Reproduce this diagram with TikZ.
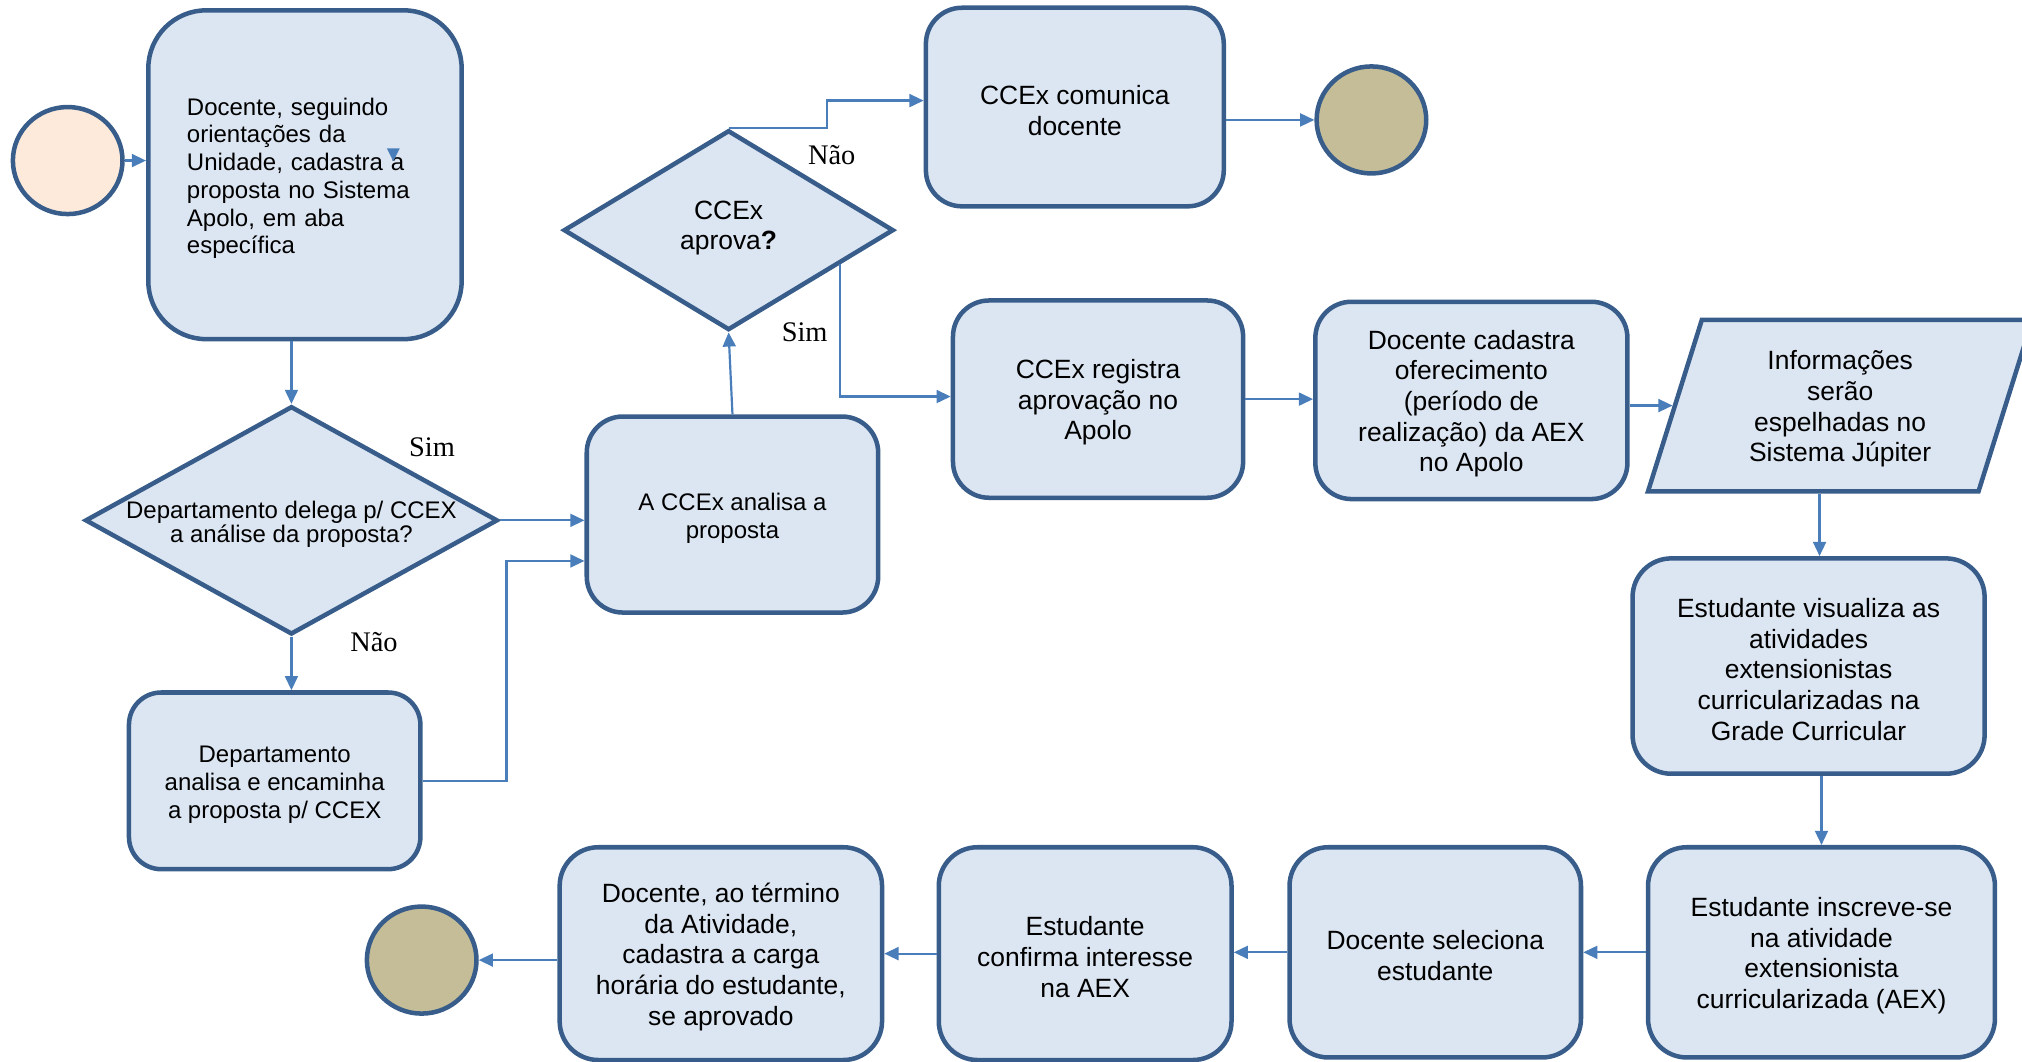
\documentclass[tikz,border=0pt]{standalone}
\usepackage{fontspec}
\setmainfont{Liberation Sans}
\newfontfamily\seriflab{Liberation Serif}
\usetikzlibrary{shapes.geometric,arrows.meta,calc}
\definecolor{boxfill}{HTML}{DCE6F2}
\definecolor{boxline}{HTML}{385D8A}
\definecolor{arrowc}{HTML}{4A7EBB}
\definecolor{startfill}{HTML}{FDEADA}
\definecolor{endfill}{HTML}{C4BD97}
\newcommand\bigrl{\rule{0pt}{20pt}}
\newcommand\smallrl{\rule{0pt}{19pt}}
\begin{document}
\begin{tikzpicture}[x=1pt,y=-1pt,
  proc/.style={draw=boxline, fill=boxfill, line width=3.5pt, rectangle, inner sep=0pt, align=center,
    font=\fontsize{20.5}{23.75}\selectfont},
  smalltxt/.style={font=\fontsize{18.6}{21.5}\selectfont},
  dec/.style={draw=boxline, fill=boxfill, line width=3.5pt, diamond, inner sep=0pt},
  term/.style={draw=boxline, line width=3.5pt, ellipse, inner sep=0pt, minimum width=85pt, minimum height=83pt},
  arr/.style={draw=arrowc, line width=1.7pt, -{Triangle[length=11pt,width=10pt]}},
  lbl/.style={font=\seriflab\fontsize{22}{24}\selectfont, inner sep=0pt},
]
\useasboundingbox (0,0) rectangle (1568,822.8);

% terminals
\node[term, fill=startfill] (start) at (52.5,124.5) {};
\node[term, fill=endfill] (end1) at (1063.5,93) {};
\node[term, fill=endfill] (end2) at (327,744.5) {};

% process boxes
\node[proc, smalltxt, minimum width=243pt, minimum height=255pt, rounded corners=45pt, text width=183pt, align=left] (A) at (236.5,135.5)
  {\smallrl Docente, seguindo\\ orientações da\\ Unidade, cadastra a\\ proposta no Sistema\\ Apolo, em aba\\ específica};
\fill[arrowc] (300,115) -- (310,115) -- (305,125) -- cycle;

\node[proc, smalltxt, minimum width=226pt, minimum height=137pt, rounded corners=25pt] (B) at (213,605.5)
  {\smallrl Departamento\\ analisa e encaminha\\ a proposta p/ CCEX};
\node[proc, smalltxt, minimum width=226pt, minimum height=152pt, rounded corners=28pt] (C) at (568,399)
  {\smallrl A CCEx analisa a\\ proposta};
\node[proc, minimum width=231pt, minimum height=154pt, rounded corners=28pt] (Dbox) at (833.5,83)
  {\bigrl CCEx comunica\\ docente};
\node[proc, minimum width=225pt, minimum height=153pt, rounded corners=28pt] (E) at (851.5,309.5)
  {\bigrl CCEx registra\\ aprovação no\\ Apolo};
\node[proc, minimum width=242pt, minimum height=153pt, rounded corners=28pt] (F) at (1141,310.5)
  {\bigrl Docente cadastra\\ oferecimento\\ (período de\\ realização) da AEX\\ no Apolo};
\node[draw=boxline, fill=boxfill, line width=3.5pt, trapezium, trapezium left angle=66.4, trapezium right angle=113.6,
  trapezium stretches body, minimum width=298pt, minimum height=133pt, inner sep=0pt, align=center,
  font=\fontsize{20.5}{23.75}\selectfont] (par) at (1427,314.5)
  {\bigrl Informações\\ serão\\ espelhadas no\\ Sistema Júpiter};
\node[proc, minimum width=273pt, minimum height=167pt, rounded corners=30pt] (G) at (1402.5,516.5)
  {\bigrl Estudante visualiza as\\ atividades\\ extensionistas\\ curricularizadas na\\ Grade Curricular};
\node[proc, minimum width=269pt, minimum height=163pt, rounded corners=30pt] (H) at (1412.5,738.5)
  {\bigrl Estudante inscreve-se\\ na atividade\\ extensionista\\ curricularizada (AEX)};
\node[proc, minimum width=226pt, minimum height=163pt, rounded corners=30pt] (I) at (1113,738.5)
  {\bigrl Docente seleciona\\ estudante};
\node[proc, minimum width=227pt, minimum height=165pt, rounded corners=30pt] (J) at (841.5,739.5)
  {\bigrl Estudante\\ confirma interesse\\ na AEX};
\node[proc, minimum width=250pt, minimum height=165pt, rounded corners=30pt] (K) at (559,739.5)
  {\bigrl Docente, ao término\\ da Atividade,\\ cadastra a carga\\ horária do estudante,\\ se aprovado};

% decisions
\node[dec, minimum width=320pt, minimum height=177pt] (D1) at (226,403.5) {};
\node[align=center, inner sep=0pt, font=\fontsize{18.6}{18.6}\selectfont] (D1t) at (226,406.5)
  {Departamento delega p/ CCEX\\ a análise da proposta?};
\node[dec, minimum width=256pt, minimum height=155pt] (D2) at (565,178.5) {};
\node[align=center, inner sep=0pt, font=\fontsize{20.5}{23.5}\selectfont] (D2t) at (565,177)
  {CCEx\\ aprova\textbf{?}};

% labels
\node[lbl] (l1) at (335,347) {Sim};
\node[lbl] (l2) at (290,498) {Não};
\node[lbl] (l3) at (645,120) {Não};
\node[lbl] (l4) at (624,258) {Sim};

% connectors
\coordinate (px) at (1411,0);
\draw[arr] (start.east) -- (A.west |- start.east);
\draw[arr] (D1.north |- A.south) -- (D1.north);
\draw[arr] (D1.south) -- (D1.south |- B.north);
\draw[arr] (D1.east) -- (C.west |- D1.east);
\draw[arr] (B.east) -- ++(65,0) |- ($(C.west)+(0,36)$);
\draw[arr] (C.north) -- (D2.south);
\draw[arr] (D2.north) -- ++(76,0) |- ($(Dbox.west)+(0,-5)$);
\draw[arr] (end1.west -| Dbox.east) -- (end1.west);
\draw[arr] (D2.-17.6) |- ($(E.west)+(0,-2)$);
\draw[arr] (E.east) -- (E.east -| F.west);
\draw[arr] (F.east |- par.west) -- (par.west);
\draw[arr] (px |- par.south) -- (px |- G.north);
\draw[arr] (H.north |- G.south) -- (H.north);
\draw[arr] (H.west) -- (H.west -| I.east);
\draw[arr] (I.west) -- (I.west -| J.east);
\draw[arr] (J.west) -- (J.west -| K.east);
\draw[arr] (K.west |- end2.east) -- (end2.east);
\end{tikzpicture}
\end{document}
